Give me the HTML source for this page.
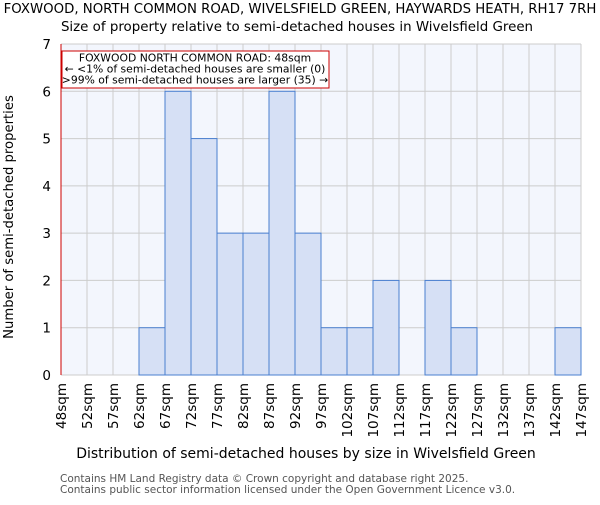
<!DOCTYPE html>
<html><head><style>body{margin:0;background:#fff}svg{font-family:"DejaVu Sans","Liberation Sans",sans-serif}</style></head><body>
<svg id="c" width="600" height="500" xmlns="http://www.w3.org/2000/svg">
<text x="300" y="13" font-size="13.3" text-anchor="middle">FOXWOOD, NORTH COMMON ROAD, WIVELSFIELD GREEN, HAYWARDS HEATH, RH17 7RH</text>
<text x="297" y="31" font-size="13.4" text-anchor="middle">Size of property relative to semi-detached houses in Wivelsfield Green</text>
<g id="grid"></g><g id="bars"></g><g id="axes"></g>
<text x="306" y="458" font-size="14" text-anchor="middle">Distribution of semi-detached houses by size in Wivelsfield Green</text>
<text transform="translate(13,217) rotate(-90)" font-size="13.2" text-anchor="middle">Number of semi-detached properties</text>
<text x="60" y="482" font-size="10.5" fill="#555">Contains HM Land Registry data © Crown copyright and database right 2025.</text>
<text x="60" y="493" font-size="10.5" fill="#555">Contains public sector information licensed under the Open Government Licence v3.0.</text>
</svg>
<script>
const labels=["48sqm","52sqm","57sqm","62sqm","67sqm","72sqm","77sqm","82sqm","87sqm","92sqm","97sqm","102sqm","107sqm","112sqm","117sqm","122sqm","127sqm","132sqm","137sqm","142sqm","147sqm"];
const counts=[0,0,0,1,6,5,3,3,6,3,1,1,2,0,2,1,0,0,0,1];
const yTicks=[0,1,2,3,4,5,6,7];
const propertyIndex=0;
const X0=61,X1=581,Y0=375,Y1=44,YMAX=7;
const bw=(X1-X0)/counts.length;
const x=i=>X0+i*bw, y=v=>Y0-(Y0-Y1)*v/YMAX;
const NS="http://www.w3.org/2000/svg";
function mk(t,a,p,txt){const e=document.createElementNS(NS,t);for(const k in a)e.setAttribute(k,a[k]);if(txt!==undefined)e.textContent=txt;p.appendChild(e);return e;}
const grid=document.getElementById('grid'),bars=document.getElementById('bars'),axes=document.getElementById('axes');
mk('rect',{x:X0,y:Y1,width:X1-X0,height:Y0-Y1,fill:'#f3f6fd'},grid);
for(let i=0;i<=counts.length;i++){const l=mk('line',{x1:x(i),x2:x(i),y1:Y1,y2:Y0,stroke:'#cccccc'},grid);

}
yTicks.forEach(t=>{const l=mk('line',{x1:X0,x2:X1,y1:y(t),y2:y(t),stroke:'#cccccc'},grid);


const tx=mk('text',{x:X0-10,y:y(t)+5,'font-size':13.5,'text-anchor':'end'},axes,t);

});
counts.forEach((c,i)=>{if(c>0){const r=mk('rect',{x:x(i),y:y(c),width:bw,height:Y0-y(c),fill:'#d6e0f5',stroke:'#4a7fd0','stroke-width':1},bars);

}});
labels.forEach((s,i)=>{const t=mk('text',{transform:`translate(${x(i)+5},${Y0+8}) rotate(-90)`,'font-size':13.5,'text-anchor':'end'},axes,s);

});
const pl=mk('line',{x1:x(propertyIndex),x2:x(propertyIndex),y1:Y1,y2:Y0,stroke:'#cc0000','stroke-width':1},axes);


const g=mk('g',{},axes);


mk('rect',{x:62,y:51,width:267,height:37,fill:'#fff',stroke:'#cc0000'},g);
mk('text',{x:195,y:61.5,'font-size':10.8,'text-anchor':'middle'},g,'FOXWOOD NORTH COMMON ROAD: 48sqm');
mk('text',{x:195,y:72.5,'font-size':10.8,'text-anchor':'middle'},g,'← <1% of semi-detached houses are smaller (0)');
mk('text',{x:195,y:83.5,'font-size':10.8,'text-anchor':'middle'},g,'>99% of semi-detached houses are larger (35) →');
</script>
</body></html>
